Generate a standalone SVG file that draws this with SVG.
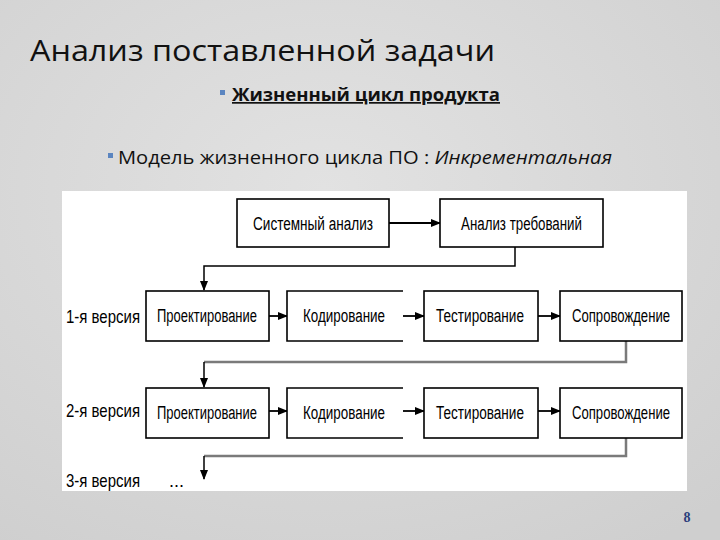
<svg xmlns="http://www.w3.org/2000/svg" width="720" height="540" viewBox="0 0 720 540">
<defs>
<radialGradient id="bg" cx="0.45" cy="0.35" r="0.8">
<stop offset="0" stop-color="#e2e2e2"/>
<stop offset="1" stop-color="#cfcfcf"/>
</radialGradient>
<marker id="ah" markerWidth="10" markerHeight="8" refX="9" refY="4" orient="auto" markerUnits="userSpaceOnUse">
<path d="M0,0 L10,4 L0,8 Z" fill="#000"/>
</marker>
<style>
.box{fill:#fff;stroke:#000;stroke-width:1.6}
.lbl{font-family:"Liberation Sans",Arial,sans-serif;font-size:18px;fill:#000}
.ver{font-family:"Liberation Sans",Arial,sans-serif;font-size:19px;fill:#000}
.arr{stroke:#000;stroke-width:1.8;fill:none;marker-end:url(#ah)}
.ret{stroke:#7a7a7a;stroke-width:2.5;fill:none}
.retd{stroke:#000;stroke-width:1.5;fill:none;marker-end:url(#ah)}
.hd{font-family:"Open Sans","DejaVu Sans",sans-serif;fill:#111}
</style>
</defs>
<rect x="0" y="0" width="720" height="540" fill="url(#bg)"/>
<text class="hd" x="30" y="61" font-size="30" textLength="465" lengthAdjust="spacingAndGlyphs">Анализ поставленной задачи</text>
<rect x="220" y="90" width="5" height="5" fill="#5b85c0"/>
<text class="hd" x="232" y="101" font-size="17" font-weight="bold" text-decoration="underline" textLength="268" lengthAdjust="spacingAndGlyphs">Жизненный цикл продукта</text>
<rect x="108" y="153" width="5" height="5" fill="#5b85c0"/>
<text class="hd" x="118" y="164" font-size="18" textLength="494" lengthAdjust="spacingAndGlyphs">Модель жизненного цикла ПО : <tspan font-style="italic">Инкрементальная</tspan></text>
<rect x="62" y="191" width="625" height="300" fill="#fff"/>
<g id="connectors">
<line class="arr" x1="389" y1="223" x2="440" y2="223"/>
<polyline class="retd" points="515,247 515,266 204,266 204,290"/>
<line class="arr" x1="269" y1="316" x2="287" y2="316"/>
<line class="arr" x1="403" y1="316" x2="424" y2="316"/>
<line class="arr" x1="538" y1="316" x2="560" y2="316"/>
<polyline class="ret" points="626,341 626,362 204,362"/>
<line class="retd" x1="204" y1="362" x2="204" y2="387"/>
<line class="arr" x1="269" y1="411" x2="287" y2="411"/>
<line class="arr" x1="403" y1="411" x2="424" y2="411"/>
<line class="arr" x1="538" y1="411" x2="560" y2="411"/>
<polyline class="ret" points="626,438 626,456 204,456"/>
<line class="retd" x1="204" y1="456" x2="204" y2="479"/>
</g>
<g id="sys"><rect class="box" x="237" y="199" width="152" height="48"/><text class="lbl" x="253" y="230" textLength="120" lengthAdjust="spacingAndGlyphs">Системный анализ</text></g>
<g id="req"><rect class="box" x="440" y="199" width="163" height="48"/><text class="lbl" x="461" y="230" textLength="121" lengthAdjust="spacingAndGlyphs">Анализ требований</text></g>
<text class="ver" x="66" y="323" textLength="74" lengthAdjust="spacingAndGlyphs">1-я версия</text>
<g id="des1"><rect class="box" x="146" y="291" width="123" height="50"/><text class="lbl" x="157" y="322" textLength="100" lengthAdjust="spacingAndGlyphs">Проектирование</text></g>
<g id="cod1"><path d="M403,291 H287 V341 H403" fill="#fff" stroke="#000" stroke-width="1.6"/><text class="lbl" x="303" y="322" textLength="82" lengthAdjust="spacingAndGlyphs">Кодирование</text></g>
<g id="tst1"><rect class="box" x="424" y="291" width="114" height="50"/><text class="lbl" x="436" y="322" textLength="88" lengthAdjust="spacingAndGlyphs">Тестирование</text></g>
<g id="sup1"><rect class="box" x="560" y="291" width="122" height="50"/><text class="lbl" x="572" y="322" textLength="98" lengthAdjust="spacingAndGlyphs">Сопровождение</text></g>
<text class="ver" x="66" y="417" textLength="74" lengthAdjust="spacingAndGlyphs">2-я версия</text>
<g id="des2"><rect class="box" x="146" y="388" width="123" height="50"/><text class="lbl" x="157" y="419" textLength="100" lengthAdjust="spacingAndGlyphs">Проектирование</text></g>
<g id="cod2"><path d="M403,388 H287 V438 H403" fill="#fff" stroke="#000" stroke-width="1.6"/><text class="lbl" x="303" y="419" textLength="82" lengthAdjust="spacingAndGlyphs">Кодирование</text></g>
<g id="tst2"><rect class="box" x="424" y="388" width="114" height="50"/><text class="lbl" x="436" y="419" textLength="88" lengthAdjust="spacingAndGlyphs">Тестирование</text></g>
<g id="sup2"><rect class="box" x="560" y="388" width="122" height="50"/><text class="lbl" x="572" y="419" textLength="98" lengthAdjust="spacingAndGlyphs">Сопровождение</text></g>
<text class="ver" x="66" y="487" textLength="74" lengthAdjust="spacingAndGlyphs">3-я версия</text>
<text class="lbl" x="169" y="487">...</text>
<text x="687" y="522" font-family="Liberation Serif,serif" font-size="14" font-weight="bold" fill="#2b3f7c" text-anchor="middle">8</text>
</svg>
